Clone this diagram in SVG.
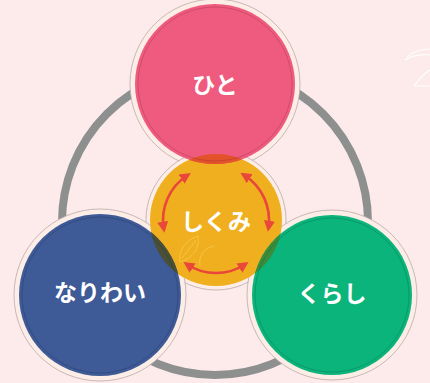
<svg xmlns="http://www.w3.org/2000/svg" width="430" height="383" viewBox="0 0 430 383">
<defs>
<style>
.halo{fill:#FCEDE7;stroke:#B9AAA8;stroke-width:0.8}
.lbl{font-family:"Noto Sans CJK JP","Noto Sans",sans-serif;font-weight:bold;font-size:23px;fill:#FFFFFF;text-anchor:middle;dominant-baseline:central}
.arr{fill:none;stroke:#E8473A;stroke-width:2.6;marker-start:url(#ah);marker-end:url(#ah)}
.inner{fill:none;stroke-opacity:0.35;stroke-width:0.8}
</style>
<marker id="ah" viewBox="0 0 10 10" refX="6" refY="5" markerWidth="11" markerHeight="11" markerUnits="userSpaceOnUse" orient="auto-start-reverse">
<path d="M0,0 L10,5 L0,10 Z" fill="#E8473A"/>
</marker>
<clipPath id="cOrange"><circle cx="216" cy="220" r="66"/></clipPath>
</defs>
<rect width="430" height="383" fill="#FDEBEC"/>
<path d="M407,57 C414,51 422,49 430,49 M405,60 C414,55 423,54 430,55 M414,86 C419,79 425,73 430,70 M414,86 L430,86" fill="none" stroke="#FFFFFF" stroke-width="1.2" opacity="0.9"/>
<g id="connectors">
<circle cx="215" cy="222" r="153" fill="none" stroke="#8E8F8F" stroke-width="8"/>
</g>
<g id="halos">
<circle class="halo" cx="215" cy="84" r="85"/>
<circle class="halo" cx="216" cy="220" r="70"/>
<circle class="halo" cx="100" cy="295" r="86"/>
<circle class="halo" cx="332" cy="295" r="85"/>
</g>
<g id="node-shikumi">
<circle cx="216" cy="220" r="66" fill="#F0AF1E"/>
<path d="M180,262 C178,250 186,240 198,236 C200,248 193,258 180,262 Z M182,258 L196,240 M200,266 C198,256 204,248 214,246" fill="none" stroke="#F7C858" stroke-width="1" opacity="0.8"/>
<path class="arr" d="M187.1,175.5 A53,53 0 0 0 163.7,228.3"/>
<path class="arr" d="M244.1,175.1 A53,53 0 0 1 268.5,227.4"/>
<path class="arr" d="M244.9,264.5 A53,53 0 0 1 187.1,264.5"/>
<text class="lbl" x="216" y="220">しくみ</text>
</g>
<g id="node-hito">
<circle cx="215" cy="84" r="80" fill="#EF5B7E"/>
<circle cx="215" cy="84" r="80" fill="#E4522C" clip-path="url(#cOrange)"/>
<circle class="inner" cx="215" cy="84" r="77" stroke="#7A2030"/>
<text class="lbl" x="215" y="83">ひと</text>
</g>
<g id="node-nariwai">
<circle cx="100" cy="295" r="81" fill="#3E5A97"/>
<circle cx="100" cy="295" r="81" fill="#4A5035" clip-path="url(#cOrange)"/>
<circle class="inner" cx="100" cy="295" r="78" stroke="#15233F"/>
<text class="lbl" x="100" y="291">なりわい</text>
</g>
<g id="node-kurashi">
<circle cx="332" cy="295" r="80" fill="#0BB47B"/>
<circle cx="332" cy="295" r="80" fill="#3B8C3B" clip-path="url(#cOrange)"/>
<circle class="inner" cx="332" cy="295" r="77" stroke="#05503A"/>
<text class="lbl" x="332" y="292">くらし</text>
</g>
</svg>
